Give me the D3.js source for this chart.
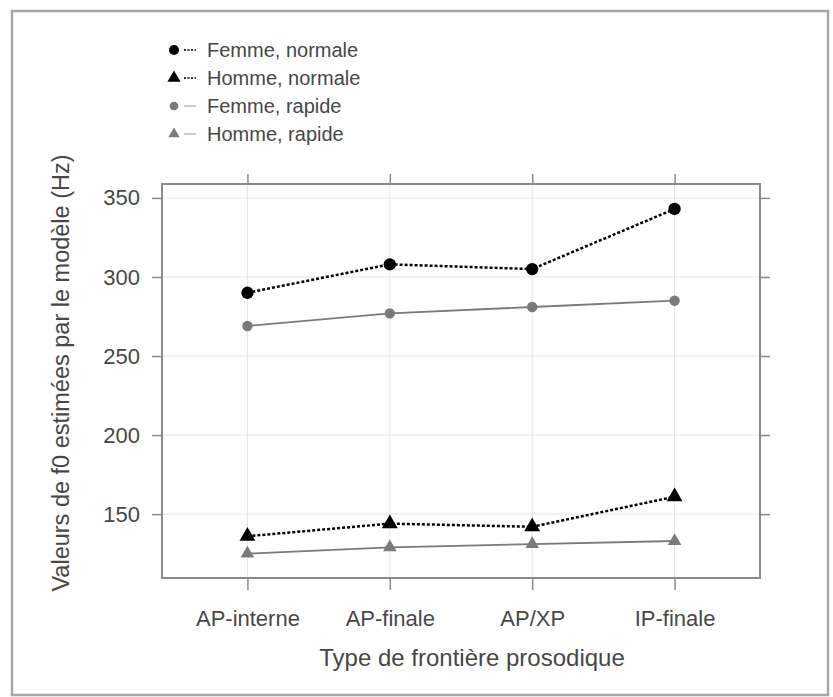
<!DOCTYPE html>
<html>
<head>
<meta charset="utf-8">
<script src="https://cdn.jsdelivr.net/npm/d3@7"></script>
<style>
  html, body { margin: 0; padding: 0; background: #fff; }
  svg { display: block; font-family: "Liberation Sans", Arial, sans-serif; }
</style>
</head>
<body>
<svg id="chart" width="833" height="697"></svg>
<script>
// Prosodic boundary types on the x axis
const categories = ["AP-interne", "AP-finale", "AP/XP", "IP-finale"];

// Estimated f0 values (Hz) per speaker sex and speech rate
const femmeNormale = [290, 308, 305, 343];
const hommeNormale = [136, 144, 142, 161];
const femmeRapide  = [269, 277, 281, 285];
const hommeRapide  = [125, 129, 131, 133];

const yTicks = [150, 200, 250, 300, 350];
const legendLabels = ["Femme, normale", "Homme, normale", "Femme, rapide", "Homme, rapide"];

const series = [
  { name: legendLabels[0], values: femmeNormale, shape: "circle",   color: "#000", dashed: true },
  { name: legendLabels[1], values: hommeNormale, shape: "triangle", color: "#000", dashed: true },
  { name: legendLabels[2], values: femmeRapide,  shape: "circle",   color: "#7a7a7a", dashed: false },
  { name: legendLabels[3], values: hommeRapide,  shape: "triangle", color: "#7a7a7a", dashed: false }
];

const textColor = "#474747";
const svg = d3.select("#chart");

// outer figure frame
svg.append("rect")
  .attr("x", 12).attr("y", 11).attr("width", 816).attr("height", 684)
  .attr("fill", "none").attr("stroke", "#a8a8a8").attr("stroke-width", 2.5);

const panel = { left: 162, right: 760, top: 184, bottom: 578 };

// categories sit at 1..4 on a [0.4, 4.6] range, lattice style
const x = d3.scaleLinear()
  .domain([0.4, 4.6])
  .range([panel.left, panel.right]);
const xPos = d => x(categories.indexOf(d) + 1);

const y = d3.scaleLinear()
  .domain([109.6, 358.8])
  .range([panel.bottom, panel.top]);

const g = svg.append("g");

// grid
g.selectAll("line.hgrid").data(yTicks).enter().append("line")
  .attr("x1", panel.left).attr("x2", panel.right)
  .attr("y1", d => y(d)).attr("y2", d => y(d))
  .attr("stroke", "#e4e4e4").attr("stroke-width", 1);
g.selectAll("line.vgrid").data(categories).enter().append("line")
  .attr("x1", d => xPos(d)).attr("x2", d => xPos(d))
  .attr("y1", panel.top).attr("y2", panel.bottom)
  .attr("stroke", "#e4e4e4").attr("stroke-width", 1);

// axes (ticks on all four sides, labels on left and bottom)
const tickColor = "#8a8a8a";
const xBand = d3.scaleOrdinal().domain(categories).range(categories.map(xPos));
const axisLeft = d3.axisLeft(y).tickValues(yTicks).tickSize(10).tickPadding(12);
const axisRight = d3.axisRight(y).tickValues(yTicks).tickSize(10).tickFormat("");
const axisBottom = d3.axisBottom(xBand).tickSize(12).tickPadding(14);
const axisTop = d3.axisTop(xBand).tickSize(10).tickFormat("");

function styleAxis(sel) {
  sel.select(".domain").remove();
  sel.selectAll(".tick line").attr("stroke", tickColor).attr("stroke-width", 1.5);
  sel.selectAll(".tick text").attr("fill", textColor).style("font-size", "22px")
    .style("font-family", "\"Liberation Sans\", Arial, sans-serif");
}

svg.append("g").attr("transform", `translate(${panel.left},0)`).call(axisLeft).call(styleAxis);
svg.append("g").attr("transform", `translate(${panel.right},0)`).call(axisRight).call(styleAxis);
svg.append("g").attr("transform", `translate(0,${panel.bottom})`).call(axisBottom).call(styleAxis)
  .selectAll(".tick text").attr("y", 48).attr("dy", null);
svg.append("g").attr("transform", `translate(0,${panel.top})`).call(axisTop).call(styleAxis);

// panel frame
svg.append("rect")
  .attr("x", panel.left).attr("y", panel.top)
  .attr("width", panel.right - panel.left).attr("height", panel.bottom - panel.top)
  .attr("fill", "none").attr("stroke", "#8a8a8a").attr("stroke-width", 2);

// lines
const line = d3.line()
  .x((v, i) => xPos(categories[i]))
  .y(v => y(v));

const triangle = d3.symbol().type(d3.symbolTriangle);
const circle = d3.symbol().type(d3.symbolCircle);

series.forEach(s => {
  g.append("path")
    .datum(s.values)
    .attr("d", line)
    .attr("fill", "none")
    .attr("stroke", s.color)
    .attr("stroke-width", s.dashed ? 2.5 : 1.8)
    .attr("stroke-dasharray", s.dashed ? "3,2" : null);
});

series.forEach(s => {
  const big = s.dashed;
  const size = s.shape === "circle" ? (big ? 120 : 85) : (big ? 110 : 80);
  const sym = (s.shape === "circle" ? circle : triangle).size(size);
  g.selectAll(null).data(s.values).enter().append("path")
    .attr("transform", (v, i) => `translate(${xPos(categories[i])},${y(v)})`)
    .attr("d", sym())
    .attr("fill", s.color);
});

// legend
const legend = svg.append("g").attr("transform", "translate(174,50)");
series.forEach((s, i) => {
  const row = legend.append("g").attr("transform", `translate(0,${i * 28})`);
  const big = s.dashed;
  const size = s.shape === "circle" ? (big ? 80 : 60) : (big ? 75 : 55);
  const sym = (s.shape === "circle" ? circle : triangle).size(size);
  row.append("path").attr("d", sym()).attr("fill", s.color);
  row.append("line")
    .attr("x1", 10).attr("x2", 22).attr("y1", 0).attr("y2", 0)
    .attr("stroke", s.dashed ? "#333" : "#bbb")
    .attr("stroke-width", s.dashed ? 2 : 1.5)
    .attr("stroke-dasharray", s.dashed ? "2,1.5" : null);
  row.append("text")
    .attr("x", 33).attr("y", 0).attr("dy", "0.35em")
    .attr("fill", textColor).style("font-size", "20px")
    .text(s.name);
});

// axis titles
svg.append("text")
  .attr("x", 472).attr("y", 666)
  .attr("text-anchor", "middle")
  .attr("fill", textColor).style("font-size", "24px")
  .text("Type de frontière prosodique");

svg.append("text")
  .attr("transform", "translate(69,373) rotate(-90)")
  .attr("text-anchor", "middle")
  .attr("fill", textColor).style("font-size", "23.5px")
  .text("Valeurs de f0 estimées par le modèle (Hz)");
</script>
</body>
</html>
